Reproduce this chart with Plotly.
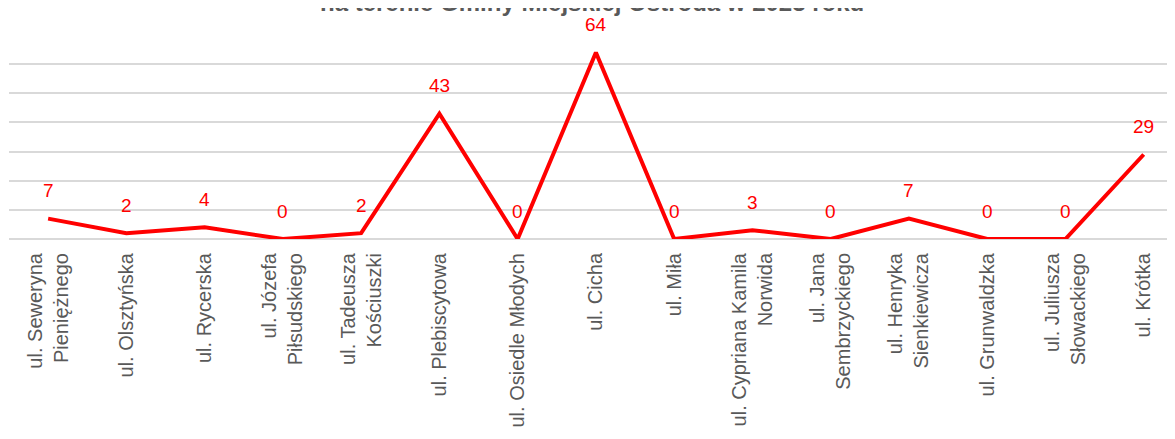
import plotly.graph_objects as go

streets = [
    "ul. Seweryna<br>Pieniężnego",
    "ul. Olsztyńska",
    "ul. Rycerska",
    "ul. Józefa<br>Piłsudskiego",
    "ul. Tadeusza<br>Kościuszki",
    "ul. Plebiscytowa",
    "ul. Osiedle Młodych",
    "ul. Cicha",
    "ul. Miła",
    "ul. Cypriana Kamila<br>Norwida",
    "ul. Jana<br>Sembrzyckiego",
    "ul. Henryka<br>Sienkiewicza",
    "ul. Grunwaldzka",
    "ul. Juliusza<br>Słowackiego",
    "ul. Krótka",
]
counts = [7, 2, 4, 0, 2, 43, 0, 64, 0, 3, 0, 7, 0, 0, 29]
title_text = "na terenie Gminy Miejskiej Ostróda w 2023 roku"

idx = list(range(len(streets)))
font = "Liberation Sans, Arial"

fig = go.Figure()
fig.add_trace(go.Scatter(
    x=idx, y=counts, mode="lines",
    line=dict(color="#ff0000", width=4),
    cliponaxis=False, hoverinfo="skip",
))

# data labels above each point
for i, v in zip(idx, counts):
    fig.add_annotation(x=i, y=v, text=str(v), showarrow=False, yshift=28,
                       font=dict(family=font, size=19, color="#ff0000"))

# title sits mostly above the visible area, as in the source image
fig.add_annotation(xref="paper", yref="paper", x=0.5, y=1.085, yanchor="bottom",
                   text=title_text, showarrow=False,
                   font=dict(family=font, size=24, color="#595959", weight="bold"))

fig.update_xaxes(
    tickmode="array", tickvals=idx, ticktext=streets, tickangle=-90,
    range=[-0.5, 14.4], showgrid=False, zeroline=False, showline=False,
    ticks="", ticklen=0, ticklabelstandoff=9, automargin=False,
    tickfont=dict(family=font, size=20, color="#595959"),
)
fig.update_yaxes(
    range=[0, 70], dtick=10, showticklabels=False, showgrid=True,
    gridcolor="#d9d9d9", gridwidth=1.5, zeroline=True, zerolinecolor="#d9d9d9",
    zerolinewidth=1.5, automargin=False,
)
# page body adds an 8px offset, so the figure is sized to fit the window
fig.update_layout(
    width=1167, height=431,
    margin=dict(l=1, r=0, t=27, b=200, autoexpand=False),
    plot_bgcolor="white", paper_bgcolor="white",
    showlegend=False,
)

fig.write_html("out.html")
